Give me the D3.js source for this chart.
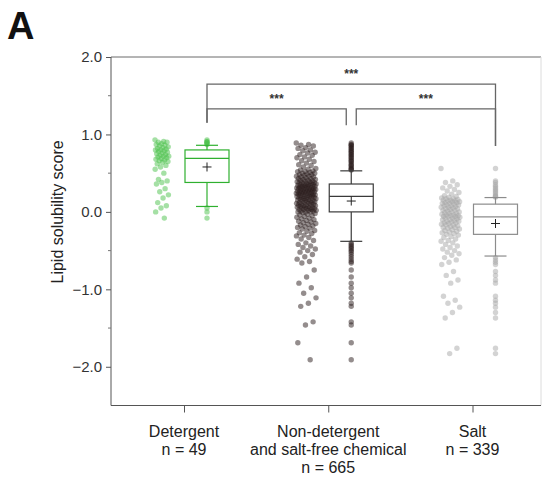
<!DOCTYPE html>
<html><head><meta charset="utf-8">
<script src="https://cdn.jsdelivr.net/npm/d3@7"></script>
<style>body{margin:0;background:#fff}svg{display:block;font-family:"Liberation Sans",Arial,sans-serif}</style>
</head><body>
<script>
// ---------- data ----------
const categories = ["Detergent", "Non-detergent", "Salt"];
const labelLines = [["Detergent", "n = 49"], ["Non-detergent", "and salt-free chemical", "n = 665"], ["Salt", "n = 339"]];
const yTicks = [2.0, 1.0, 0.0, -1.0, -2.0];
const yMinorTicks = [1.5, 0.5, -0.5, -1.5];

const detergentValues = [0.93,0.91,0.9,0.9,0.88,0.87,0.86,0.85,0.84,0.83,0.82,0.81,0.8,0.8,0.79,0.78,0.77,0.76,0.75,0.74,0.73,0.72,0.72,0.71,0.7,0.69,0.68,0.67,0.66,0.65,0.64,0.62,0.6,0.58,0.55,0.5,0.42,0.4,0.38,0.36,0.3,0.26,0.22,0.18,0.12,0.08,0.05,0.0,-0.08];
const nonDetergentValues = [0.89,0.87,0.86,0.85,0.83,0.82,0.80,0.79,0.77,0.76,0.74,0.73,0.71,0.70,0.68,0.66,0.65,0.63,0.61,0.60,0.58,0.56,0.55,0.54,
0.53,0.52,0.52,0.51,0.50,0.50,0.49,0.48,0.48,0.47,0.46,0.46,0.45,0.45,0.44,0.43,0.43,0.42,0.42,0.41,0.41,0.40,0.40,0.39,0.39,0.38,0.38,0.37,0.37,0.37,0.36,0.36,
0.35,0.35,0.35,0.34,0.34,0.34,0.33,0.33,0.33,0.32,0.32,0.32,0.31,0.31,0.31,0.30,0.30,0.30,0.29,0.29,0.29,0.28,0.28,0.28,0.27,0.27,0.27,0.26,0.26,0.26,0.25,0.25,0.25,0.24,0.24,0.24,0.23,0.23,0.23,0.22,0.22,0.22,0.21,0.21,0.21,0.20,0.20,0.20,
0.19,0.19,0.18,0.18,0.18,0.17,0.17,0.16,0.16,0.15,0.15,0.15,0.14,0.14,0.13,0.13,0.12,0.12,0.12,0.11,0.11,0.10,0.10,0.09,0.09,0.09,0.08,0.08,0.07,0.07,0.06,0.06,0.06,0.05,0.05,0.04,0.04,0.03,0.03,0.03,0.02,0.02,0.01,0.01,0.00,0.00,0.00,-0.01,
-0.02,-0.03,-0.04,-0.05,-0.06,-0.07,-0.08,-0.09,-0.10,-0.11,-0.12,-0.13,-0.14,-0.15,-0.16,-0.17,-0.18,-0.19,-0.20,-0.21,-0.22,-0.24,-0.25,-0.27,-0.28,-0.30,-0.31,-0.33,-0.35,-0.37,
-0.40,-0.42,-0.44,-0.46,-0.48,-0.50,-0.52,-0.55,-0.58,-0.61,-0.64,-0.66,-0.75,-0.84,-0.92,-0.98,-1.05,-1.11,-1.18,-1.22,-1.42,-1.46,-1.69,-1.91];
const saltValues = [0.56,0.40,0.38,0.35,0.33,0.31,0.29,0.27,0.25,0.23,0.21,0.20,0.19,
0.18,0.17,0.17,0.16,0.15,0.15,0.14,0.14,0.13,0.13,0.12,0.12,0.11,0.11,0.10,
0.09,0.09,0.08,0.08,0.07,0.06,0.06,0.05,0.04,0.04,0.03,0.02,0.02,0.01,0.00,0.00,-0.01,-0.02,-0.02,-0.03,-0.04,-0.04,-0.05,-0.05,-0.06,-0.06,-0.06,-0.07,
-0.08,-0.08,-0.09,-0.10,-0.10,-0.11,-0.12,-0.12,-0.13,-0.14,-0.14,-0.15,-0.16,-0.17,-0.17,-0.18,-0.19,-0.20,-0.20,-0.21,-0.22,-0.23,-0.24,-0.25,-0.26,-0.27,-0.28,-0.29,
-0.30,-0.32,-0.33,-0.35,-0.37,-0.38,-0.40,-0.42,-0.44,-0.46,-0.48,-0.50,-0.52,-0.54,-0.56,
-0.59,-0.62,-0.65,-0.68,-0.77,-0.82,-0.88,-0.92,-1.09,-1.14,-1.18,-1.23,-1.30,-1.37,-1.76,-1.83];

// box statistics
const boxQ1 = [0.38, 0.0, -0.29];
const boxMedian = [0.69, 0.20, -0.065];
const boxQ3 = [0.80, 0.36, 0.10];
const whiskerLow = [0.07, -0.38, -0.57];
const whiskerHigh = [0.86, 0.53, 0.185];
const boxMean = [0.58, 0.14, -0.15];

// significance brackets
const bracketFrom = [0, 0, 1];
const bracketTo = [2, 1, 2];
const bracketLevel = [1.65, 1.33, 1.33];
const bracketLabel = ["***", "***", "***"];
const legEnd = [1.15, 1.12, 0.85];

// ---------- drawing ----------
const W = 544, H = 481;
const svg = d3.select("body").append("svg").attr("width", W).attr("height", H);
const frame = {left: 111, right: 541, top: 57, bottom: 405.5};

const y = d3.scaleLinear().domain([-2.5, 2.0]).range([frame.bottom, frame.top]);
const x = d3.scalePoint().domain(categories).range([184, 472.5]);

const groups = [detergentValues, nonDetergentValues, saltValues];
const pointColor = ["#4cc24c", "#2a1c1c", "#a8a8a8"];
const pointOpacity = [0.5, 0.5, 0.5];
const boxColor = ["#2fb02f", "#3a3a3a", "#8c8c8c"];
const stripWidth = [14, 20, 19];
const stripOffset = -22, boxOffset = 23, boxHalf = 22, capHalf = 11;
const boxX = i => x(categories[i]) + boxOffset;

svg.append("text").attr("x", 7).attr("y", 39).attr("font-size", 38).attr("font-weight", "bold").attr("fill", "#111").text("A");

svg.append("line").attr("x1", frame.left).attr("x2", frame.right).attr("y1", frame.top).attr("y2", frame.top).attr("stroke", "#6a6a6a");
svg.append("line").attr("x1", frame.right).attr("x2", frame.right).attr("y1", frame.top).attr("y2", frame.bottom).attr("stroke", "#dcdcdc");

const yAxis = svg.append("g").attr("transform", `translate(${frame.left},0)`)
  .call(d3.axisLeft(y).tickValues(yTicks).tickFormat(d3.format(".1f")).tickSize(5).tickPadding(4));
yAxis.select(".domain").attr("stroke", "#555").attr("d", `M0,${frame.top}V${frame.bottom}`);
yAxis.selectAll(".tick line").attr("stroke", "#555");
yAxis.selectAll("text").attr("font-size", 15).attr("fill", "#333").attr("font-family", "Liberation Sans, Arial, sans-serif");
svg.append("g").selectAll("line").data(yMinorTicks).join("line")
  .attr("x1", frame.left - 3).attr("x2", frame.left).attr("y1", d => y(d)).attr("y2", d => y(d)).attr("stroke", "#777");

svg.append("text").attr("transform", `translate(63,${y(0)}) rotate(-90)`).attr("text-anchor", "middle")
  .attr("font-size", 16).attr("fill", "#222").text("Lipid solubility score");

const xAxis = svg.append("g").attr("transform", `translate(0,${frame.bottom})`)
  .call(d3.axisBottom(x).tickSize(7).tickFormat(""));
xAxis.select(".domain").attr("stroke", "#555").attr("d", `M${frame.left},0H${frame.right}`);
xAxis.selectAll(".tick line").attr("stroke", "#555");
categories.forEach((c, i) => {
  const t = svg.append("text").attr("text-anchor", "middle").attr("font-size", 16).attr("fill", "#222");
  labelLines[i].forEach((ln, j) => t.append("tspan").attr("x", x(c)).attr("y", 437 + j * 18).text(ln));
});

groups.forEach((vals, gi) => {
  const cx = x(categories[gi]) + stripOffset;
  svg.append("g").selectAll("circle").data(vals).join("circle")
    .attr("cx", (d, i) => cx + (((i * 0.6180339) % 1) - 0.5) * stripWidth[gi])
    .attr("cy", d => y(d)).attr("r", 2.7)
    .attr("fill", pointColor[gi]).attr("fill-opacity", pointOpacity[gi]);
});

groups.forEach((vals, gi) => {
  const bx = boxX(gi), col = boxColor[gi];
  const g = svg.append("g");
  const outl = vals.filter(v => v > whiskerHigh[gi] || v < whiskerLow[gi]);
  g.selectAll("circle").data(outl).join("circle").attr("cx", bx).attr("cy", d => y(d)).attr("r", 2.7)
    .attr("fill", pointColor[gi]).attr("fill-opacity", pointOpacity[gi]);
  g.append("line").attr("x1", bx).attr("x2", bx).attr("y1", y(whiskerHigh[gi])).attr("y2", y(boxQ3[gi])).attr("stroke", col).attr("stroke-width", 1.2);
  g.append("line").attr("x1", bx).attr("x2", bx).attr("y1", y(boxQ1[gi])).attr("y2", y(whiskerLow[gi])).attr("stroke", col).attr("stroke-width", 1.2);
  [whiskerHigh[gi], whiskerLow[gi]].forEach(v => g.append("line").attr("x1", bx - capHalf).attr("x2", bx + capHalf)
    .attr("y1", y(v)).attr("y2", y(v)).attr("stroke", col).attr("stroke-width", 1.2));
  g.append("rect").attr("x", bx - boxHalf).attr("width", 2 * boxHalf).attr("y", y(boxQ3[gi]))
    .attr("height", y(boxQ1[gi]) - y(boxQ3[gi])).attr("fill", "none").attr("stroke", col).attr("stroke-width", 1.2);
  g.append("line").attr("x1", bx - boxHalf).attr("x2", bx + boxHalf).attr("y1", y(boxMedian[gi])).attr("y2", y(boxMedian[gi])).attr("stroke", col).attr("stroke-width", 1.2);
  const my = y(boxMean[gi]);
  g.append("path").attr("d", `M${bx - 4.5},${my}H${bx + 4.5}M${bx},${my - 4.5}V${my + 4.5}`).attr("stroke", "#222").attr("stroke-width", 1);
});

bracketFrom.forEach((f, k) => {
  const t = bracketTo[k];
  let x1 = boxX(f), x2 = boxX(t);
  if (k === 1) x2 -= 5;
  if (k === 2) x1 += 5;
  const by = y(bracketLevel[k]);
  svg.append("path").attr("fill", "none").attr("stroke", "#666").attr("stroke-width", 1.3)
    .attr("d", `M${x1},${y(legEnd[f])}V${by}H${x2}V${y(legEnd[t])}`);
  svg.append("text").attr("x", (x1 + x2) / 2).attr("y", by - 6).attr("text-anchor", "middle")
    .attr("font-size", 12).attr("font-weight", "bold").attr("fill", "#333").text(bracketLabel[k]);
});
</script>
</body></html>
